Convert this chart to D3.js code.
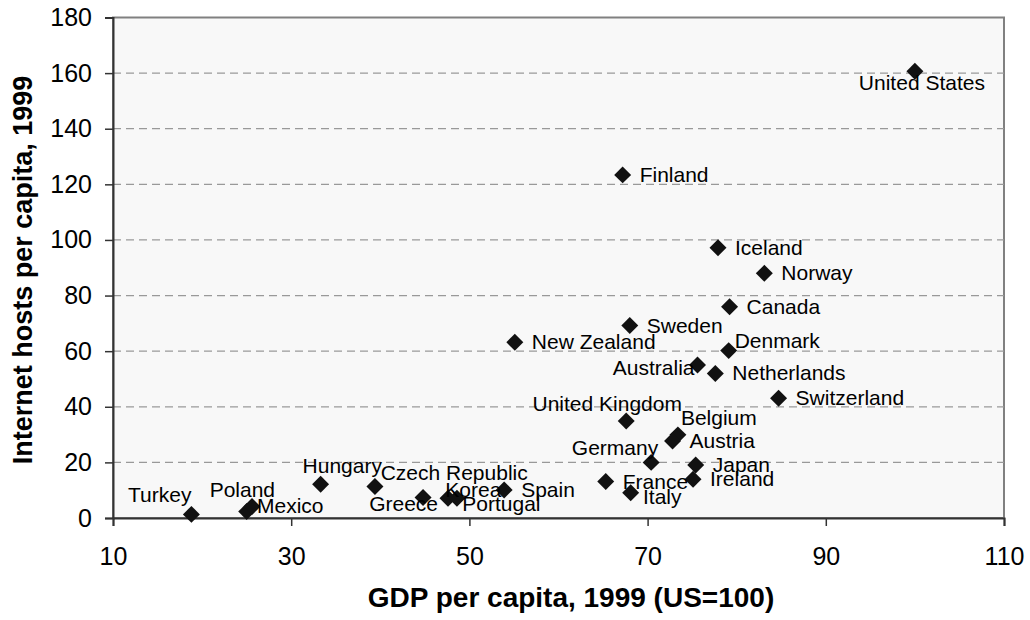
<html>
	<head>
		<meta charset="utf-8">
		<script type="text/javascript" src="https://cdn.jsdelivr.net/npm/d3@7/dist/d3.min.js"></script>
		<style>
			body { margin: 0; background: #fff; }
			text { font-family: "Liberation Sans", Arial, sans-serif; fill: #000; }
		</style>
	</head>
	<body>
		<div id="contt"></div>
		<script>
		var countries = ["Turkey", "Poland", "Mexico", "Hungary", "Czech Republic", "Greece", "Korea", "Portugal",
			"Spain", "France", "Italy", "Germany", "Japan", "Ireland", "Belgium", "Austria", "United Kingdom",
			"Switzerland", "New Zealand", "Sweden", "Canada", "Denmark", "Australia", "Netherlands", "Finland",
			"Iceland", "Norway", "United States"];
		var gdp = [18.8, 25.0, 25.6, 33.3, 39.4, 44.8, 47.6, 48.6,
			53.9, 65.3, 68.1, 70.4, 75.4, 75.1, 73.4, 72.8, 67.6,
			84.7, 55.1, 68.0, 79.2, 79.1, 75.6, 77.6, 67.2,
			77.9, 83.1, 100];
		var hosts = [1.3, 2.3, 4.1, 12.1, 11.3, 7.4, 7.1, 7.1,
			10.1, 13.1, 9.1, 20.0, 19.1, 13.9, 29.9, 27.7, 34.9,
			43.1, 63.2, 69.2, 76.0, 60.2, 55.0, 52.0, 123.4,
			97.2, 88.0, 160.7];
		var xTicks = [10, 30, 50, 70, 90, 110];
		var yTicks = [0, 20, 40, 60, 80, 100, 120, 140, 160, 180];

		// where each label sits next to its marker (default: right of it)
		var labelPos = {
			"Turkey": [0, -12.5, "end"],
			"Poland": [-37, -15, "start"],
			"Mexico": [5, 6.6, "start"],
			"Hungary": [-18, -11, "start"],
			"Czech Republic": [5.7, -6.7, "start"],
			"Greece": [15, 13.4, "end"],
			"Korea": [-2.7, -1.6, "start"],
			"Portugal": [5.4, 12.7, "start"],
			"Germany": [7, -7, "end"],
			"Italy": [12.3, 11.3, "start"],
			"Belgium": [3, -10, "start"],
			"United Kingdom": [-19, -10, "middle"],
			"Australia": [-3, 10, "end"],
			"Denmark": [6, -2.4, "start"],
			"United States": [7, 19, "middle"]
		};

		var w = 1030, h = 620;
		var pLeft = 113, pRight = 1004, pTop = 17.5, pBottom = 518;

		var svg = d3.select("#contt").append("svg")
			.attr("width", w)
			.attr("height", h);

		var x = d3.scaleLinear().domain([10, 110]).range([pLeft, pRight]);
		var y = d3.scaleLinear().domain([0, 180]).range([pBottom, pTop]);

		svg.append("rect")
			.attr("x", pLeft).attr("y", pTop)
			.attr("width", pRight - pLeft).attr("height", pBottom - pTop)
			.attr("fill", "#f8f8f8")
			.attr("stroke", "#808080")
			.attr("stroke-width", 2);

		svg.append("g").selectAll("line")
			.data(yTicks.filter(function(t) { return t > 0 && t < 180; }))
			.enter().append("line")
			.attr("x1", pLeft).attr("x2", pRight)
			.attr("y1", function(d) { return y(d); })
			.attr("y2", function(d) { return y(d); })
			.attr("stroke", "#999")
			.attr("stroke-width", 1.2)
			.attr("stroke-dasharray", "8,5");

		var yAxis = svg.append("g")
			.attr("transform", "translate(" + pLeft + ",0)")
			.call(d3.axisLeft(y).tickValues(yTicks).tickSize(8).tickPadding(13));
		var xAxis = svg.append("g")
			.attr("transform", "translate(0," + pBottom + ")")
			.call(d3.axisBottom(x).tickValues(xTicks).tickSize(8).tickPadding(20));

		[yAxis, xAxis].forEach(function(a) {
			a.attr("font-size", null).attr("font-family", null);
			a.select(".domain").attr("stroke", "#333").attr("stroke-width", 2);
			a.selectAll(".tick line").attr("stroke", "#333").attr("stroke-width", 1.5);
			a.selectAll(".tick text").style("font-size", "25px").attr("fill", "#000");
		});
		xAxis.selectAll(".tick text").attr("dy", "0.75em");

		var pts = countries.map(function(c, i) { return { name: c, gx: gdp[i], hy: hosts[i] }; });

		svg.append("g").selectAll("path")
			.data(pts)
			.enter().append("path")
			.attr("d", d3.symbol().type(d3.symbolSquare).size(144))
			.attr("transform", function(d) { return "translate(" + x(d.gx) + "," + y(d.hy) + ") rotate(45)"; })
			.attr("fill", "#111");

		svg.append("g").selectAll("text")
			.data(pts)
			.enter().append("text")
			.attr("x", function(d) { var p = labelPos[d.name] || [17, 7]; return x(d.gx) + p[0]; })
			.attr("y", function(d) { var p = labelPos[d.name] || [17, 7]; return y(d.hy) + p[1]; })
			.attr("text-anchor", function(d) { var p = labelPos[d.name]; return p ? p[2] : "start"; })
			.style("font-size", "21px")
			.text(function(d) { return d.name; });

		svg.append("text")
			.attr("x", 571).attr("y", 607)
			.attr("text-anchor", "middle")
			.style("font-size", "28px").style("font-weight", "bold")
			.text("GDP per capita, 1999 (US=100)");

		svg.append("text")
			.attr("transform", "translate(32,270) rotate(-90)")
			.attr("text-anchor", "middle")
			.style("font-size", "27px").style("font-weight", "bold")
			.text("Internet hosts per capita, 1999");
		</script>
	</body>
</html>
